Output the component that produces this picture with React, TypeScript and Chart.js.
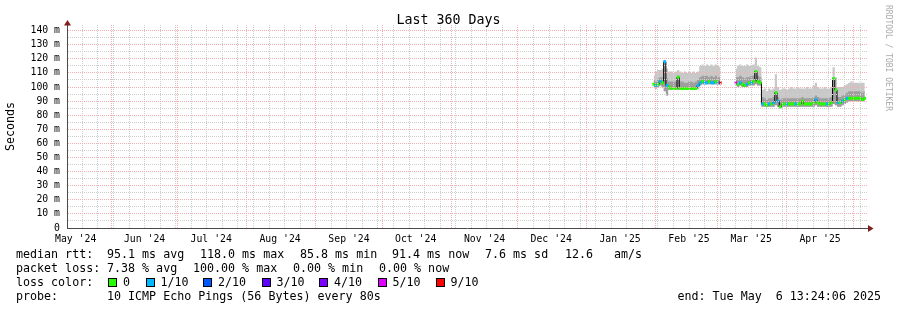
import React, { useEffect, useRef } from 'react';
import { Chart, registerables } from 'chart.js';

Chart.register(...registerables);

const MONO = '"DejaVu Sans Mono", monospace';

// ---------- axis / tick data ----------
const monthLabels = ["May '24", "Jun '24", "Jul '24", "Aug '24", "Sep '24", "Oct '24", "Nov '24", "Dec '24", "Jan '25", "Feb '25", "Mar '25", "Apr '25"];
// days since start of the window (May 11 2024 13:24)
const monthLabelDays = [3.9, 34.9, 64.9, 95.9, 126.9, 156.9, 187.9, 217.9, 248.9, 279.9, 307.9, 338.9];
const monthStartDays = [19.9, 49.9, 80.9, 111.9, 141.9, 172.9, 202.9, 233.9, 264.9, 292.9, 323.9, 353.9];
const weekStartDays = [6.9, 13.9, 20.9, 27.9, 34.9, 41.9, 48.9, 55.9, 62.9, 69.9, 76.9, 83.9, 90.9, 97.9, 104.9, 111.9, 118.9, 125.9, 132.9, 139.9, 146.9, 153.9, 160.9, 167.9, 174.9, 181.9, 188.9, 195.9, 202.9, 209.9, 216.9, 223.9, 230.9, 237.9, 244.9, 251.9, 258.9, 265.9, 272.9, 279.9, 286.9, 293.9, 300.9, 307.9, 314.9, 321.9, 328.9, 335.9, 342.9, 349.9, 356.9];
const yTickValues = [0, 5, 10, 15, 20, 25, 30, 35, 40, 45, 50, 55, 60, 65, 70, 75, 80, 85, 90, 95, 100, 105, 110, 115, 120, 125, 130, 135, 140];
const X_MAX_DAYS = 360;
const Y_MAX = 144;

// ---------- series data (ms) ----------
// sample days: block A 264..294, a gap at 297, block B 301..359
const blockADays = [264, 265, 266, 267, 268, 269, 270, 271, 272, 273, 274, 275, 276, 277, 278, 279, 280, 281, 282, 283, 284, 285, 286, 287, 288, 289, 290, 291, 292, 293, 294];
const gapDays = [297];
const blockBDays = [301, 302, 303, 304, 305, 306, 307, 308, 309, 310, 311, 312, 313, 314, 315, 316, 317, 318, 319, 320, 321, 322, 323, 324, 325, 326, 327, 328, 329, 330, 331, 332, 333, 334, 335, 336, 337, 338, 339, 340, 341, 342, 343, 344, 345, 346, 347, 348, 349, 350, 351, 352, 353, 354, 355, 356, 357, 358, 359];
const sampleDays = [...blockADays, ...gapDays, ...blockBDays];

const medianMs = [
  102, 101, 102, 104, 103, 118, 101, 100, 99, 99, 99, 107, 99, 99, 99, 99, 99, 99, 99, 99, 101, 103, 104, 103, 103, 104, 103, 103, 104, 103, 103,
  null,
  103, 102, 103, 102, 101, 102, 103, 103, 104, 111, 104, 103, 88, 88, 87, 88, 88, 89, 96, 90, 86, 88, 88, 88, 88, 88, 88, 88, 88, 88, 90, 88, 88, 88, 88, 89, 91, 89, 88, 88, 88, 88, 88, 89, 106, 98, 89, 89, 90, 91, 92, 92, 92, 92, 92, 92, 92, 91, 92,
];
const lostPings = [
  0, 1, 0, 1, 0, 1, 1, 0, 0, 0, 0, 0, 0, 0, 0, 0, 0, 0, 0, 0, 1, 1, 0, 1, 1, 0, 1, 1, 0, 1, 9,
  null,
  5, 0, 1, 0, 0, 1, 0, 1, 0, 0, 0, 0, 1, 0, 0, 1, 0, 1, 0, 1, 0, 0, 0, 1, 0, 0, 0, 1, 0, 0, 0, 0, 0, 0, 0, 0, 1, 0, 0, 0, 0, 1, 0, 0, 0, 0, 1, 0, 1, 0, 1, 0, 0, 0, 0, 0, 0, 0, 0,
];
const smokeLowMs = [
  100, 99, 100, 101, 100, 97, 94, 98, 98, 98, 98, 98, 98, 98, 98, 98, 98, 98, 98, 98, 99, 101, 102, 102, 102, 102, 102, 102, 102, 102, 102,
  null,
  101, 100, 101, 100, 100, 100, 101, 101, 101, 102, 101, 101, 86, 86, 86, 86, 86, 86, 87, 86, 85, 86, 86, 86, 86, 86, 86, 86, 86, 86, 86, 86, 86, 86, 86, 86, 87, 86, 86, 86, 86, 86, 86, 86, 88, 87, 86, 86, 87, 88, 89, 90, 90, 90, 90, 90, 90, 90, 90,
];
const smokeMidMs = [
  105, 104, 106, 107, 107, 118, 106, 104, 104, 104, 104, 108, 104, 104, 103, 103, 104, 104, 103, 104, 105, 107, 108, 108, 108, 107, 108, 107, 108, 107, 107,
  null,
  107, 107, 108, 107, 106, 107, 107, 108, 108, 111, 108, 107, 93, 92, 91, 92, 92, 93, 97, 93, 91, 92, 92, 92, 92, 92, 92, 92, 92, 92, 93, 92, 92, 92, 92, 93, 94, 93, 92, 92, 92, 92, 92, 93, 106, 99, 93, 93, 94, 95, 96, 97, 97, 97, 97, 97, 97, 96, 97,
];
const smokeHighMs = [
  108, 111, 112, 112, 113, 119, 113, 111, 111, 110, 111, 112, 111, 110, 111, 110, 111, 110, 111, 110, 111, 115, 116, 115, 116, 115, 116, 115, 116, 115, 114,
  null,
  113, 115, 116, 115, 115, 116, 115, 115, 116, 121, 115, 114, 98, 99, 97, 99, 98, 99, 109, 100, 98, 99, 99, 98, 99, 100, 99, 99, 100, 99, 99, 99, 100, 99, 99, 101, 103, 100, 99, 99, 100, 99, 99, 100, 114, 107, 100, 100, 100, 101, 102, 103, 104, 103, 103, 103, 103, 103, 103,
];

// ---------- legend data ----------
const lossLegendLabels = ['0', '1/10', '2/10', '3/10', '4/10', '5/10', '9/10'];
const lossLegendCounts = [0, 1, 2, 3, 4, 5, 9];
const lossColorByCount: Record<number, string> = {
  0: '#26ff00', 1: '#00b8ff', 2: '#0059ff', 3: '#5e00ff', 4: '#7e00ff', 5: '#dd00ff', 6: '#ff0000', 7: '#ff0000', 8: '#ff0000', 9: '#ff0000', 10: '#ff0000',
};
const rttLegend = ['median rtt:', '95.1 ms avg', '118.0 ms max', '85.8 ms min', '91.4 ms now', '7.6 ms sd', '12.6', 'am/s'];
const lossLegend = ['packet loss:', '7.38 % avg', '100.00 % max', '0.00 % min', '0.00 % now'];
const probeLegend = ['probe:', '10 ICMP Echo Pings (56 Bytes) every 80s'];
const endLegend = 'end: Tue May  6 13:24:06 2025';
const chartTitle = 'Last 360 Days';
const yAxisTitle = 'Seconds';
const watermark = 'RRDTOOL / TOBI OETIKER';

// ---------- layout (positions only) ----------
const rttX = [16, 107, 200, 300, 392, 485, 565, 614];
const lossX = [16, 107, 193, 293, 379];
const probeX = [16, 107];
const boxX = [108, 145.5, 203, 261.5, 319, 377.5, 435.5];
const rowTop = [247, 261, 275, 289];

const MINOR = '#cfcfcf';
const MAJOR = '#f4b0b0';
const AXIS = '#4a4a4a';
const ARROW = '#7f1f1f';

export default function App() {
  const ref = useRef<HTMLCanvasElement>(null);

  useEffect(() => {
    const canvas = ref.current!;
    const pts = (arr: (number | null)[]) => sampleDays.map((d, i) => ({ x: d, y: arr[i] }));

    const decor = {
      id: 'axisDecor',
      afterDraw(chart: any) {
        const { ctx, chartArea: a } = chart;
        ctx.save();
        ctx.strokeStyle = AXIS;
        ctx.lineWidth = 1;
        ctx.beginPath();
        ctx.moveTo(a.left + 0.5, a.top);
        ctx.lineTo(a.left + 0.5, a.top - 3);
        ctx.moveTo(a.right, a.bottom + 0.5);
        ctx.lineTo(a.right + 2, a.bottom + 0.5);
        ctx.stroke();
        ctx.fillStyle = ARROW;
        ctx.beginPath();
        ctx.moveTo(a.left - 3, a.top + 0.5);
        ctx.lineTo(a.left + 4, a.top + 0.5);
        ctx.lineTo(a.left + 0.5, a.top - 5);
        ctx.closePath();
        ctx.fill();
        ctx.beginPath();
        ctx.moveTo(a.right + 1, a.bottom - 3);
        ctx.lineTo(a.right + 1, a.bottom + 4);
        ctx.lineTo(a.right + 6.5, a.bottom + 0.5);
        ctx.closePath();
        ctx.fill();
        ctx.restore();
      },
    };

    const hiddenGridAxis = (ticksArr: number[], color: string) => ({
      type: 'linear',
      axis: 'x',
      position: 'bottom',
      min: 0,
      max: X_MAX_DAYS,
      afterBuildTicks: (s: any) => { s.ticks = ticksArr.map((v) => ({ value: v })); },
      afterFit: (s: any) => { s.height = 0; },
      ticks: { display: false },
      grid: { display: true, drawTicks: false, color, lineWidth: 1, z: 1 },
      border: { display: false, dash: [1, 1] },
    });

    const chart = new Chart(canvas, {
      type: 'line',
      data: {
        datasets: [
          {
            label: 'smoke low', data: pts(smokeLowMs), xAxisID: 'x', yAxisID: 'y',
            borderWidth: 0, pointRadius: 0, fill: false, stepped: 'middle', order: 5,
          },
          {
            label: 'smoke high', data: pts(smokeHighMs), xAxisID: 'x', yAxisID: 'y',
            borderWidth: 0, pointRadius: 0, fill: { target: 0 }, backgroundColor: '#c8c8c8', stepped: 'middle', order: 4,
          },
          {
            label: 'smoke mid', data: pts(smokeMidMs), xAxisID: 'x', yAxisID: 'y',
            borderWidth: 0, pointRadius: 0, fill: { target: 0 }, backgroundColor: '#9e9e9e', stepped: 'middle', order: 3,
          },
          {
            label: 'median', data: pts(medianMs), xAxisID: 'x', yAxisID: 'y',
            borderColor: '#000000', borderWidth: 1, pointRadius: 0, fill: false, stepped: 'middle', order: 2,
          },
          {
            label: 'median loss', data: pts(medianMs), xAxisID: 'x', yAxisID: 'y',
            showLine: false, pointStyle: 'line', pointRadius: 1.3, pointHoverRadius: 1.3, pointBorderWidth: 3,
            pointBorderColor: (c: any) => lossColorByCount[(lostPings[c.dataIndex] ?? 0) as number],
            pointBackgroundColor: (c: any) => lossColorByCount[(lostPings[c.dataIndex] ?? 0) as number],
            order: 1,
          },
        ] as any,
      },
      options: {
        animation: false,
        responsive: false,
        events: [],
        layout: { padding: { left: 0, right: 30, top: 25, bottom: 0 } },
        plugins: { legend: { display: false }, tooltip: { enabled: false }, title: { display: false } },
        scales: {
          x: {
            type: 'linear',
            position: 'bottom',
            min: 0,
            max: X_MAX_DAYS,
            afterBuildTicks: (s: any) => { s.ticks = monthLabelDays.map((v) => ({ value: v })); },
            afterFit: (s: any) => { s.height = 82; },
            ticks: {
              autoSkip: false, maxRotation: 0, minRotation: 0, padding: 5.5, color: '#000',
              font: { family: MONO, size: 9.8 },
              callback: (_v: any, i: number) => monthLabels[i],
            },
            grid: { display: false, drawTicks: false },
            border: { display: true, color: AXIS, width: 1, z: 2 },
          },
          xWeek: hiddenGridAxis(weekStartDays, MINOR),
          xMonth: hiddenGridAxis(monthStartDays, MAJOR),
          y: {
            type: 'linear',
            position: 'left',
            min: 0,
            max: Y_MAX,
            afterBuildTicks: (s: any) => { s.ticks = yTickValues.map((v) => ({ value: v })); },
            afterFit: (s: any) => { s.width = 67; },
            ticks: {
              autoSkip: false, padding: 7, color: '#000',
              font: { family: MONO, size: 9.8 },
              callback: (v: any) => (v % 10 === 0 ? (v === 0 ? '0' : `${v} m`) : ''),
            },
            title: {
              display: true, text: yAxisTitle, color: '#000',
              font: { family: MONO, size: 11.67 }, padding: { top: 4, bottom: 0 },
            },
            grid: {
              drawTicks: false, lineWidth: 1, z: 1,
              color: (c: any) => {
                const v = c.tick ? c.tick.value : -1;
                if (v <= 0) return 'rgba(0,0,0,0)';
                return v % 10 === 0 ? MAJOR : MINOR;
              },
            },
            border: { display: true, color: AXIS, width: 1, dash: [1, 1], z: 2 },
          },
        } as any,
      },
      plugins: [decor],
    });
    return () => chart.destroy();
  }, []);

  const textStyle: React.CSSProperties = {
    position: 'absolute', fontFamily: MONO, fontSize: '11.67px', lineHeight: '14px',
    whiteSpace: 'pre', color: '#000',
  };

  return (
    <div style={{ position: 'fixed', left: 0, top: 0, width: 897, height: 310, background: '#fff', overflow: 'hidden' }}>
      <canvas ref={ref} width={897} height={310} style={{ position: 'absolute', left: 0, top: 0, width: 897, height: 310 }} />
      <div style={{ position: 'absolute', left: 0, top: 12, width: 897, textAlign: 'center', fontFamily: MONO, fontSize: '13.3px', lineHeight: '16px', color: '#000' }}>
        {chartTitle}
      </div>
      <div style={{ position: 'absolute', left: 893, top: 5, transformOrigin: '0 0', transform: 'rotate(90deg)', fontFamily: MONO, fontSize: '8px', lineHeight: '10px', color: '#ababab', whiteSpace: 'pre' }}>
        {watermark}
      </div>
      {rttLegend.map((t, i) => (
        <div key={'r' + i} style={{ ...textStyle, left: rttX[i], top: rowTop[0] }}>{t}</div>
      ))}
      {lossLegend.map((t, i) => (
        <div key={'l' + i} style={{ ...textStyle, left: lossX[i], top: rowTop[1] }}>{t}</div>
      ))}
      <div style={{ ...textStyle, left: 16, top: rowTop[2] }}>loss color:</div>
      {lossLegendLabels.map((t, i) => (
        <React.Fragment key={'c' + i}>
          <div style={{ position: 'absolute', left: boxX[i], top: rowTop[2] + 3, width: 7, height: 7, border: '1px solid #000', background: lossColorByCount[lossLegendCounts[i]] }} />
          <div style={{ ...textStyle, left: boxX[i] + 15, top: rowTop[2] }}>{t}</div>
        </React.Fragment>
      ))}
      {probeLegend.map((t, i) => (
        <div key={'p' + i} style={{ ...textStyle, left: probeX[i], top: rowTop[3] }}>{t}</div>
      ))}
      <div style={{ ...textStyle, right: 897 - 881, top: rowTop[3] }}>{endLegend}</div>
    </div>
  );
}
